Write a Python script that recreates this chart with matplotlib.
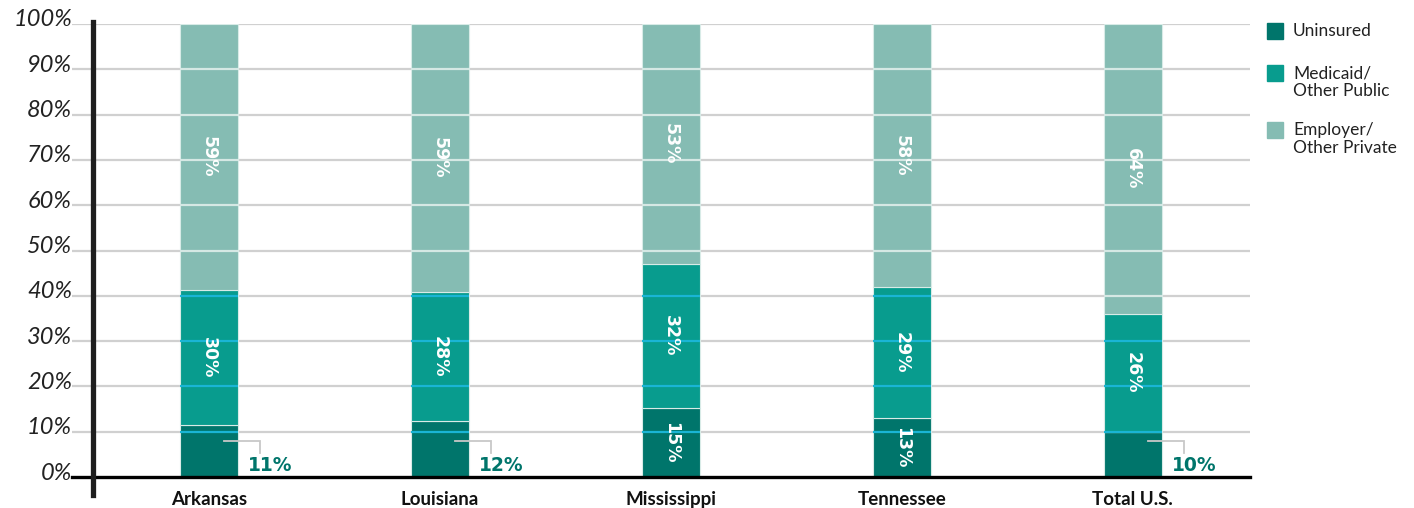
import matplotlib
matplotlib.use("Agg")
import matplotlib.pyplot as plt
from matplotlib.patches import Rectangle
from matplotlib.transforms import ScaledTranslation
import numpy as np

categories = ["Arkansas", "Louisiana", "Mississippi", "Tennessee", "Total U.S."]
uninsured = [11.4, 12.4, 15.2, 13.0, 10.0]
medicaid = [29.9, 28.4, 31.8, 29.0, 26.0]
employer = [58.7, 59.2, 53.0, 58.0, 64.0]
series_names = ["Uninsured", "Medicaid/\nOther Public", "Employer/\nOther Private"]
yticks = [0, 10, 20, 30, 40, 50, 60, 70, 80, 90, 100]
ytick_labels = [f"{v}%" for v in yticks]

c_unins = "#00756b"
c_medic = "#089c8e"
c_empl = "#85bcb3"
colors = [c_unins, c_medic, c_empl]

plt.rcParams['font.family'] = ['Lato', 'DejaVu Sans']

W, H = 1414, 508
fig = plt.figure(figsize=(W / 100, H / 100), dpi=100)
ax_l, ax_r, ax_t, ax_b = 72, 1250, 24, 477
ax = fig.add_axes([ax_l / W, 1 - ax_b / H, (ax_r - ax_l) / W, (ax_b - ax_t) / H])

x = np.arange(len(categories))
spacing_px = 230.9
first_px = 209
ax.set_xlim((ax_l - first_px) / spacing_px, (ax_r - first_px) / spacing_px)
ax.set_ylim(0, 100)
bw = 58 / spacing_px

# gridlines
for g in yticks[1:]:
    ax.axhline(g, color="#d0d0d0", lw=1.6, zorder=0)

bottoms = np.zeros(len(categories))
for vals, col in zip([uninsured, medicaid, employer], colors):
    ax.bar(x, vals, bw, bottom=bottoms, color=col, edgecolor="#d8ebe7",
           linewidth=0.8, zorder=2)
    bottoms = bottoms + np.array(vals)

# gridlines shown over the bars
for i in range(len(categories)):
    top_teal = uninsured[i] + medicaid[i]
    for g in yticks[1:-1]:
        col = "#1ab5d5" if g < top_teal else "#d5e8e4"
        ax.hlines(g, x[i] - bw / 2, x[i] + bw / 2, color=col, lw=1.6, zorder=3)

lab_kw = dict(rotation=-90, ha="center", va="center", color="white",
              fontsize=12.5, fontweight="bold", family="DejaVu Sans", zorder=4)
for i in range(len(categories)):
    ax.text(x[i], uninsured[i] + medicaid[i] + employer[i] / 2,
            f"{employer[i]:.0f}%", **lab_kw)
    ax.text(x[i], uninsured[i] + medicaid[i] / 2, f"{medicaid[i]:.0f}%", **lab_kw)
    if uninsured[i] >= 13:
        ax.text(x[i], uninsured[i] / 2, f"{uninsured[i]:.0f}%", **lab_kw)
    else:
        px = 1 / spacing_px
        ax.plot([x[i] + 15 * px, x[i] + 51 * px, x[i] + 51 * px],
                [8, 8, 5.3], color="#c8c8c8", lw=1.3, zorder=4,
                solid_joinstyle="miter")
        ax.text(x[i] + 39 * px, 2.6, f"{uninsured[i]:.0f}%", ha="left", va="center",
                color=c_unins, fontsize=13.5, fontweight="bold", family="DejaVu Sans",
                zorder=4)

# axes styling
for s in ["top", "right", "left"]:
    ax.spines[s].set_visible(False)
ax.spines["bottom"].set_linewidth(2.4)
ax.spines["bottom"].set_color("black")
ax.spines["bottom"].set_zorder(5)
ax.set_yticks(yticks)
ax.set_yticklabels(ytick_labels, fontsize=17, style="italic", color="#222222")
ax.tick_params(axis="y", length=0, pad=0)
for lab in ax.get_yticklabels():
    lab.set_transform(lab.get_transform() + ScaledTranslation(0, 6 / 100, fig.dpi_scale_trans))
ax.set_xticks(x)
ax.set_xticklabels(categories, fontsize=13.5, fontweight="bold", color="#111111")
ax.tick_params(axis="x", length=0, pad=10)

# thick vertical line
fig.add_artist(plt.Line2D([93 / W, 93 / W], [1 - 495 / H, 1 - 22 / H],
                          color="#1e1e1e", lw=3.8, transform=fig.transFigure))

# legend
leg_y = [31, 73, 130]
text_y = [31, 82, 139]
for name, col, sy, ty in zip(series_names, colors, leg_y, text_y):
    fig.add_artist(Rectangle((1267 / W, 1 - (sy + 8) / H), 16 / W, 16 / H,
                             color=col, transform=fig.transFigure))
    fig.text(1293 / W, 1 - ty / H, name, ha="left", va="center", fontsize=12.5,
             color="#222222", linespacing=1.1)

fig.savefig("out.png", dpi=100)
